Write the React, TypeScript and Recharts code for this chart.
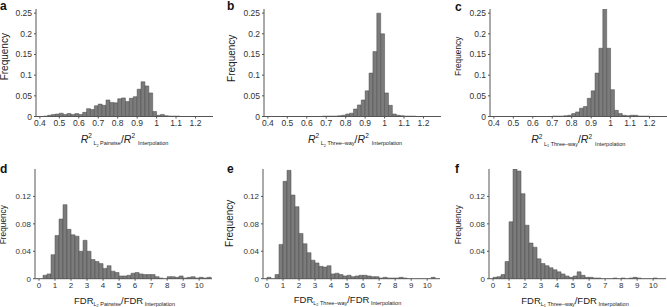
import React from 'react';
import { BarChart, Bar, XAxis, YAxis } from 'recharts';

// ---------- data ----------
const topBins = [0.41, 0.43, 0.45, 0.47, 0.49, 0.51, 0.53, 0.55, 0.57, 0.59, 0.61, 0.63, 0.65, 0.67, 0.69, 0.71, 0.73, 0.75, 0.77, 0.79, 0.81, 0.83, 0.85, 0.87, 0.89, 0.91, 0.93, 0.95, 0.97, 0.99, 1.01, 1.03, 1.05, 1.07, 1.09, 1.11, 1.13, 1.15, 1.17, 1.19, 1.21, 1.23, 1.25, 1.27];

const freqA = [0, 0.001, 0.003, 0.005, 0.006, 0.008, 0.005, 0.007, 0.005, 0.007, 0.005, 0.010, 0.019, 0.017, 0.026, 0.030, 0.027, 0.040, 0.034, 0.033, 0.043, 0.045, 0.036, 0.044, 0.048, 0.066, 0.084, 0.074, 0.057, 0.012, 0.003, 0.005, 0.002, 0.001, 0.001, 0.001, 0, 0, 0, 0, 0, 0, 0, 0];
const freqB = [0, 0, 0, 0, 0, 0, 0, 0, 0, 0, 0, 0, 0, 0, 0.001, 0.001, 0.001, 0.001, 0.002, 0.003, 0.006, 0.008, 0.018, 0.028, 0.040, 0.062, 0.105, 0.157, 0.250, 0.200, 0.057, 0.027, 0.006, 0.003, 0.002, 0.001, 0.001, 0.001, 0, 0, 0, 0, 0, 0];
const freqC = [0, 0, 0, 0, 0, 0, 0, 0, 0, 0, 0, 0, 0, 0, 0, 0.001, 0.001, 0.001, 0.002, 0.003, 0.007, 0.011, 0.020, 0.024, 0.044, 0.062, 0.105, 0.165, 0.262, 0.165, 0.065, 0.015, 0.007, 0.003, 0.002, 0.003, 0.003, 0.001, 0.001, 0.001, 0, 0, 0, 0];

const bottomBins = [0.125, 0.375, 0.625, 0.875, 1.125, 1.375, 1.625, 1.875, 2.125, 2.375, 2.625, 2.875, 3.125, 3.375, 3.625, 3.875, 4.125, 4.375, 4.625, 4.875, 5.125, 5.375, 5.625, 5.875, 6.125, 6.375, 6.625, 6.875, 7.125, 7.375, 7.625, 7.875, 8.125, 8.375, 8.625, 8.875, 9.125, 9.375, 9.625, 9.875, 10.125, 10.375, 10.625];

const freqD = [0, 0.005, 0.007, 0.035, 0.063, 0.087, 0.108, 0.072, 0.064, 0.062, 0.040, 0.056, 0.040, 0.028, 0.025, 0.022, 0.015, 0.019, 0.011, 0.009, 0.004, 0.004, 0.005, 0.008, 0.009, 0.007, 0.006, 0.006, 0.006, 0.003, 0.001, 0, 0.003, 0.003, 0.002, 0.004, 0.001, 0.002, 0.003, 0.001, 0.002, 0.001, 0.002];
const freqE = [0.002, 0, 0.006, 0.050, 0.142, 0.158, 0.122, 0.105, 0.066, 0.051, 0.038, 0.027, 0.023, 0.018, 0.017, 0.019, 0.007, 0.008, 0.006, 0.004, 0.005, 0.003, 0.004, 0.005, 0.005, 0.004, 0.003, 0.003, 0.001, 0.002, 0.001, 0.001, 0.001, 0.002, 0.001, 0, 0, 0, 0, 0, 0, 0.002, 0];
const freqF = [0.002, 0.003, 0.006, 0.025, 0.083, 0.160, 0.157, 0.124, 0.078, 0.052, 0.046, 0.029, 0.022, 0.019, 0.016, 0.013, 0.010, 0.007, 0.004, 0.002, 0.004, 0.010, 0.005, 0.002, 0.002, 0.001, 0.001, 0, 0, 0, 0.001, 0, 0.001, 0, 0.001, 0.002, 0.001, 0, 0, 0, 0.001, 0, 0];

const topXTicks = [0.4, 0.5, 0.6, 0.7, 0.8, 0.9, 1, 1.1, 1.2];
const topYTicks = [0, 0.05, 0.1, 0.15, 0.2, 0.25];
const bottomXTicks = [0, 1, 2, 3, 4, 5, 6, 7, 8, 9, 10];
const bottomYTicks = [0, 0.04, 0.08, 0.12];

const panelLetters = ['a', 'b', 'c', 'd', 'e', 'f'];

// ---------- styling ----------
const FONT = '"Liberation Sans", Arial, Helvetica, sans-serif';
const BAR_FILL = '#7b7b7b';
const BAR_EDGE = '#4a4a4a';
const AXIS = '#555555';

type PanelProps = {
  plotX: number;
  plotY: number;
  plotW: number;
  plotH: number;
  bins: number[];
  freqs: number[];
  binWidth: number;
  xDomain: [number, number];
  yDomain: [number, number];
  xTicks: number[];
  yTicks: number[];
  tickFont: number;
};

function Panel(p: PanelProps) {
  const data = p.bins.map((x, i) => ({ x, f: p.freqs[i] }));
  const yAxisW = 36;
  const topPad = 4;
  const xAxisH = 16;
  const rightPad = 2;
  const barSize = (p.binWidth * p.plotW) / (p.xDomain[1] - p.xDomain[0]) - 0.02;
  return (
    <div style={{ position: 'absolute', left: p.plotX - yAxisW, top: p.plotY - topPad }}>
      <BarChart
        width={yAxisW + p.plotW + rightPad}
        height={topPad + p.plotH + xAxisH}
        data={data}
        margin={{ top: topPad, right: rightPad, bottom: 0, left: 0 }}
        barCategoryGap={0}
        barGap={0}
      >
        <XAxis
          dataKey="x"
          type="number"
          domain={p.xDomain}
          ticks={p.xTicks}
          allowDataOverflow
          interval={0}
          height={xAxisH}
          tickSize={2}
          tickMargin={1.5}
          stroke={AXIS}
          tick={{ fontSize: p.tickFont, fill: '#333', fontFamily: FONT }}
        />
        <YAxis
          type="number"
          domain={p.yDomain}
          ticks={p.yTicks}
          allowDataOverflow
          interval={0}
          width={yAxisW}
          tickSize={2}
          tickMargin={2}
          stroke={AXIS}
          tick={{ fontSize: p.tickFont, fill: '#333', fontFamily: FONT }}
        />
        <Bar
          dataKey="f"
          fill={BAR_FILL}
          stroke={BAR_EDGE}
          strokeWidth={0.5}
          barSize={barSize}
          isAnimationActive={false}
        />
      </BarChart>
    </div>
  );
}

function RTitle({ x, y, norm, method }: { x: number; y: number; norm: string; method: string }) {
  return (
    <text x={x} y={y} textAnchor="middle" fontFamily={FONT} fontSize={10.5} fill="#222">
      <tspan fontStyle="italic">R</tspan>
      <tspan dy={-4.5} fontSize={6.5}>2</tspan>
      <tspan dy={7} fontSize={5.5}>{'\u00A0L'}</tspan>
      <tspan dy={1.3} fontSize={3.8}>{norm}</tspan>
      <tspan dy={-1.3} fontSize={5.5}>{'\u00A0' + method}</tspan>
      <tspan dy={-2.5}>/</tspan>
      <tspan fontStyle="italic">R</tspan>
      <tspan dy={-4.5} fontSize={6.5}>2</tspan>
      <tspan dy={7} fontSize={5.5}>{'\u00A0\u00A0Interpolation'}</tspan>
    </text>
  );
}

function FTitle({ x, y, norm, method }: { x: number; y: number; norm: string; method: string }) {
  return (
    <text x={x} y={y} textAnchor="middle" fontFamily={FONT} fontSize={9.5} fill="#222">
      <tspan>FDR</tspan>
      <tspan dy={2.5} fontSize={5.5}>L</tspan>
      <tspan dy={1.3} fontSize={3.8}>{norm}</tspan>
      <tspan dy={-1.3} fontSize={5.5}>{'\u00A0' + method}</tspan>
      <tspan dy={-2.5}>/FDR</tspan>
      <tspan dy={2.5} fontSize={5.5}>{'\u00A0Interpolation'}</tspan>
    </text>
  );
}

function Freq({ x, y, size }: { x: number; y: number; size: number }) {
  return (
    <text
      x={x}
      y={y}
      transform={`rotate(-90 ${x} ${y})`}
      textAnchor="middle"
      fontFamily={FONT}
      fontSize={size}
      fill="#222"
    >
      Frequency
    </text>
  );
}

export default function App() {
  const topY = 9.2;
  const topH = 107.5;
  const botY = 168.6;
  const botH = 109.7;
  const W = 177;
  const topDom: [number, number] = [0.38, 1.29];
  const botDom: [number, number] = [-0.25, 10.8];
  const topYDom: [number, number] = [0, 0.26];
  const botYDom: [number, number] = [0, 0.16];

  return (
    <div
      style={{
        position: 'absolute',
        left: 0,
        top: 0,
        width: 667,
        height: 307,
        overflow: 'hidden',
        background: '#fff',
      }}
    >
      <Panel plotX={36} plotY={topY} plotW={W} plotH={topH} bins={topBins} freqs={freqA} binWidth={0.02}
        xDomain={topDom} yDomain={topYDom} xTicks={topXTicks} yTicks={topYTicks} tickFont={8.5} />
      <Panel plotX={264} plotY={topY} plotW={W} plotH={topH} bins={topBins} freqs={freqB} binWidth={0.02}
        xDomain={topDom} yDomain={topYDom} xTicks={topXTicks} yTicks={topYTicks} tickFont={8.5} />
      <Panel plotX={490} plotY={topY} plotW={W} plotH={topH} bins={topBins} freqs={freqC} binWidth={0.02}
        xDomain={topDom} yDomain={topYDom} xTicks={topXTicks} yTicks={topYTicks} tickFont={8.5} />
      <Panel plotX={35} plotY={botY} plotW={W} plotH={botH} bins={bottomBins} freqs={freqD} binWidth={0.25}
        xDomain={botDom} yDomain={botYDom} xTicks={bottomXTicks} yTicks={bottomYTicks} tickFont={8} />
      <Panel plotX={263} plotY={botY} plotW={W} plotH={botH} bins={bottomBins} freqs={freqE} binWidth={0.25}
        xDomain={botDom} yDomain={botYDom} xTicks={bottomXTicks} yTicks={bottomYTicks} tickFont={8} />
      <Panel plotX={489} plotY={botY} plotW={W} plotH={botH} bins={bottomBins} freqs={freqF} binWidth={0.25}
        xDomain={botDom} yDomain={botYDom} xTicks={bottomXTicks} yTicks={bottomYTicks} tickFont={8} />

      <svg
        width={667}
        height={307}
        style={{ position: 'absolute', left: 0, top: 0, pointerEvents: 'none' }}
      >
        <g fontFamily={FONT} fontWeight="bold" fontSize={12} fill="#111">
          <text x={0} y={9.5}>{panelLetters[0]}</text>
          <text x={227} y={9.5}>{panelLetters[1]}</text>
          <text x={455} y={10.5}>{panelLetters[2]}</text>
          <text x={0} y={172.7}>{panelLetters[3]}</text>
          <text x={227} y={172.7}>{panelLetters[4]}</text>
          <text x={455} y={172.7}>{panelLetters[5]}</text>
        </g>

        <Freq x={7.6} y={56.7} size={10} />
        <Freq x={235} y={58.3} size={10} />
        <Freq x={461} y={56.3} size={8.3} />
        <Freq x={6.5} y={224.7} size={8.3} />
        <Freq x={233.5} y={223.3} size={10} />
        <Freq x={461} y={224.7} size={8.3} />

        <RTitle x={124.5} y={142.7} norm="2" method="Pairwise" />
        <RTitle x={355} y={142.7} norm="2" method={'Three\u2013way'} />
        <RTitle x={578.3} y={143} norm="1" method={'Three\u2013way'} />

        <FTitle x={124.5} y={303.5} norm="2" method="Pairwise" />
        <FTitle x={347.5} y={302.5} norm="2" method={'Three\u2013way'} />
        <FTitle x={575} y={303.5} norm="1" method={'Three\u2013way'} />
      </svg>
    </div>
  );
}
